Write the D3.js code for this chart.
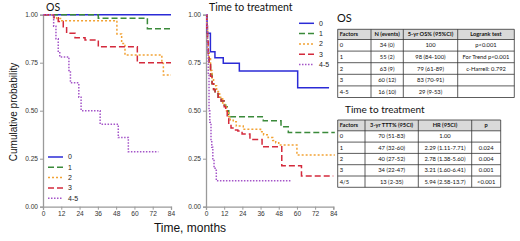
<!DOCTYPE html>
<html><head><meta charset="utf-8">
<script src="https://cdn.jsdelivr.net/npm/d3@7"></script>
<style>body{margin:0;background:#fff}svg{display:block}</style>
</head><body>
<script>
// ---------- DATA ----------
const groups = ["0","1","2","3","4-5"];
const colors = ["#2b2bd6","#3a8a3a","#f2a234","#d42a3c","#a455c8"];
const dashes = [null,"6,3","2,2","6,3","1.5,1.5"];
const xTicks = [0,12,24,36,48,60,72,84];
const yTicks = [0,0.25,0.5,0.75,1];

// OS curves [month, survival]
const os0 = [[0,1],[84,1]];
const os1 = [[0,1],[36.3,0.982],[68.5,0.927],[84,0.927]];
const os2 = [[0,1],[6.5,0.99],[9,0.98],[11.5,0.969],[48.5,0.9],[51.6,0.85],[53.8,0.79],[78,0.747],[79,0.686],[84,0.686]];
const os3 = [[0,1],[7,0.984],[10,0.964],[13.3,0.9375],[15.5,0.903],[21,0.88],[27.6,0.868],[36.3,0.833],[61.9,0.75],[84,0.75]];
const os45 = [[0,1],[7,0.94],[8.5,0.875],[10,0.81],[11,0.78],[17,0.71],[18,0.645],[23.5,0.57],[25,0.5],[37.5,0.43],[49.4,0.36],[56,0.286],[75.7,0.286]];

// Time-to-treatment curves
const tt0 = [[0,1],[0.7,0.904],[2.9,0.807],[5.9,0.776],[11.4,0.747],[22,0.707],[60.5,0.62],[81.2,0.62]];
const tt1 = [[0,1],[0.5,0.93],[1,0.86],[1.5,0.8],[2,0.75],[3,0.69],[4,0.64],[5,0.61],[6,0.59],[8,0.57],[10,0.55],[12,0.53],[13,0.52],[14,0.5],[15,0.48],[16,0.469],[37.8,0.448],[49.5,0.417],[54.3,0.387],[85,0.387]];
const tt2 = [[0,1],[0.5,0.94],[1,0.87],[1.5,0.81],[2,0.77],[3,0.71],[4,0.67],[5,0.63],[7,0.6],[9,0.57],[11,0.54],[12.5,0.52],[13.5,0.5],[15,0.47],[16,0.45],[18,0.443],[20,0.42],[24.6,0.403],[36,0.39],[38,0.375],[41,0.36],[44,0.345],[46,0.333],[48,0.321],[60,0.269],[85,0.269]];
const tt3 = [[0,1],[0.5,0.93],[1,0.86],[1.5,0.79],[2,0.74],[3,0.68],[4,0.64],[5,0.61],[6,0.59],[8,0.57],[10,0.55],[12,0.52],[13,0.5],[14,0.46],[15,0.43],[16.5,0.41],[19,0.4],[21,0.394],[23.8,0.379],[29,0.35],[37,0.3125],[50,0.213],[63,0.16],[84,0.16]];
const tt45 = [[0,1],[0.5,0.94],[1,0.81],[1.5,0.69],[2,0.5],[2.5,0.44],[3.3,0.35],[3.8,0.31],[4.5,0.25],[5.3,0.21],[6,0.19],[6.8,0.135],[56,0.135]];

// Tables
const osHeader = ["Factors","N (events)","5-yr OS% (95%CI)","Logrank test"];
const osRows = [
  ["0","34 (0)","100","p<0.001"],
  ["1","55 (2)","98 (84-100)","For Trend p<0.001"],
  ["2","63 (9)","79 (61-89)","c-Harrell: 0.792"],
  ["3","60 (12)","83 (70-91)",""],
  ["4-5","16 (10)","29 (9-53)",""]
];
const ttHeader = ["Factors","3-yr TTT% (95CI)","HR (95CI)","p"];
const ttRows = [
  ["0","70 (51-83)","1.00",""],
  ["1","47 (32-60)","2.29 (1.11-7.71)","0.024"],
  ["2","40 (27-52)","2.78 (1.38-5.60)","0.004"],
  ["3","34 (22-47)","3.21 (1.60-6.41)","0.001"],
  ["4/5","13 (2-35)","5.94 (2.58-13.7)","<0.001"]
];

// ---------- DRAW ----------
const svg = d3.select("body").append("svg").attr("width",520).attr("height",241);
const AX = "Liberation Sans, Arial, sans-serif";
const TB = "Lato, 'Open Sans', sans-serif";

const y = d3.scaleLinear().domain([0,1]).range([206.7,14.7]);

function panel(x0,x1,curves,title,legX,legY,legDy){
  const x = d3.scaleLinear().domain([0,84]).range([x0,x1]);
  const gy = svg.append("g").attr("transform",`translate(${x0},0)`)
    .call(d3.axisLeft(y).tickValues(yTicks).tickFormat(d3.format(".2f")).tickSize(3).tickPadding(2));
  const gx = svg.append("g").attr("transform",`translate(0,${y(0)})`)
    .call(d3.axisBottom(x).tickValues(xTicks).tickSize(3).tickPadding(2));
  [gx,gy].forEach(g=>{
    g.selectAll("path.domain").attr("stroke","#9a9a9a").attr("stroke-width",1.3);
    g.selectAll("line").attr("stroke","#9a9a9a");
    g.selectAll("text").attr("font-family",AX).attr("font-size",6.6).attr("fill","#333");
  });
  const line = d3.line().x(d=>x(d[0])).y(d=>y(d[1])).curve(d3.curveStepAfter);
  curves.forEach((c,i)=>{
    svg.append("path").datum(c).attr("d",line).attr("fill","none")
      .attr("stroke",colors[i]).attr("stroke-width",1.5)
      .attr("stroke-dasharray",dashes[i]);
  });
  svg.append("text").attr("x",x0+3).attr("y",11).text(title)
    .attr("font-family",TB).attr("font-size",10.5).attr("fill","#111");
  groups.forEach((g,i)=>{
    const yy = legY + i*legDy;
    svg.append("line").attr("x1",legX).attr("x2",legX+15).attr("y1",yy).attr("y2",yy)
      .attr("stroke",colors[i]).attr("stroke-width",1.5).attr("stroke-dasharray",dashes[i]);
    svg.append("text").attr("x",legX+20).attr("y",yy+2.4).text(g)
      .attr("font-family",AX).attr("font-size",7).attr("fill","#222");
  });
}

panel(43,171,[os0,os1,os2,os3,os45],"OS",48,157,10.3);
panel(206,333.3,[tt0,tt1,tt2,tt3,tt45],"Time to treatment",299,23.3,10.3);

svg.append("text").attr("transform","translate(17,112) rotate(-90)").attr("text-anchor","middle")
  .text("Cumulative probability").attr("font-family",AX).attr("font-size",10).attr("fill","#111");
svg.append("text").attr("x",190).attr("y",232).attr("text-anchor","middle")
  .text("Time, months").attr("font-family",AX).attr("font-size",12).attr("fill","#111");

function table(left,top,colX,hh,rh,header,rows){
  const right = colX[colX.length-1];
  const edges = [left].concat(colX);
  svg.append("rect").attr("x",left).attr("y",top).attr("width",right-left).attr("height",hh).attr("fill","#d9d9d9");
  const bottom = top+hh+rows.length*rh;
  const lines = [top,top+hh].concat(rows.map((r,i)=>top+hh+(i+1)*rh));
  lines.forEach(v=>svg.append("line").attr("x1",left).attr("x2",right).attr("y1",v).attr("y2",v).attr("stroke","#333").attr("stroke-width",0.8));
  edges.forEach(v=>svg.append("line").attr("x1",v).attr("x2",v).attr("y1",top).attr("y2",bottom).attr("stroke","#333").attr("stroke-width",0.8));
  header.forEach((h,j)=>{
    const cx = j===0 ? edges[0]+2 : (edges[j]+edges[j+1])/2;
    svg.append("text").attr("x",cx).attr("y",top+hh/2+2).text(h)
      .attr("text-anchor",j===0?"start":"middle")
      .attr("font-family",TB).attr("font-weight","bold").attr("font-size",5.7).attr("fill","#111");
  });
  rows.forEach((r,i)=>r.forEach((c,j)=>{
    const cx = j===0 ? edges[0]+2 : (edges[j]+edges[j+1])/2;
    svg.append("text").attr("x",cx).attr("y",top+hh+i*rh+rh/2+2).text(c)
      .attr("text-anchor",j===0?"start":"middle")
      .attr("font-family",TB).attr("font-size",5.8).attr("fill","#111");
  }));
}

svg.append("text").attr("x",337).attr("y",22).text("OS").attr("font-family",TB).attr("font-size",11).attr("fill","#111");
table(337.7,29.3,[371,403.3,457.7,514.3],10.2,11.6,osHeader,osRows);
svg.append("text").attr("x",345).attr("y",113).text("Time to treatment").attr("font-family",TB).attr("font-size",10).attr("fill","#111");
table(337.7,120,[365,418.3,471.7,500.7],10.8,11.3,ttHeader,ttRows);
</script>
</body></html>
